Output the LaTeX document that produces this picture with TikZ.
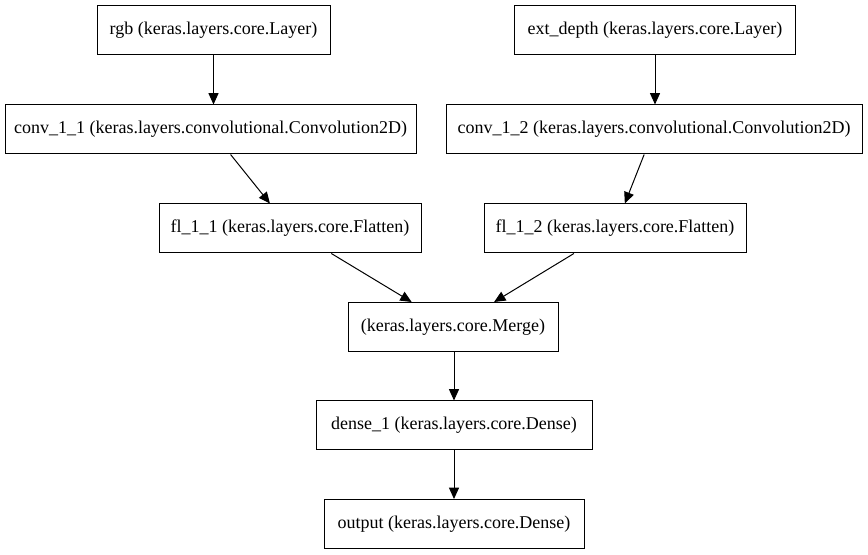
\documentclass[tikz,border=0pt]{standalone}
\usepackage{fontspec}
\setmainfont{Liberation Serif}
\usetikzlibrary{arrows.meta}

\begin{document}
\begin{tikzpicture}[x=0.75pt, y=-0.75pt,
  layer/.style={draw, line width=0.75pt, minimum height=36.75pt, inner sep=0pt,
    font=\fontsize{13.5}{16}\selectfont},
  flow/.style={-{Triangle[length=8.5pt, width=7.5pt]}, line width=0.75pt}]

  \useasboundingbox (0,0) rectangle (868,555);

  % --- ingressi ---
  \node[layer, minimum width=174.75pt] (rgb) at (213.5,30.5) {rgb (keras.layers.core.Layer)};
  \node[layer, minimum width=210.75pt] (extdepth) at (655,30.5) {ext\_depth (keras.layers.core.Layer)};

  % --- convoluzioni ---
  \node[layer, minimum width=308.25pt] (conv11) at (210.5,129.5) {conv\_1\_1 (keras.layers.convolutional.Convolution2D)};
  \node[layer, minimum width=312pt] (conv12) at (654,129.5) {conv\_1\_2 (keras.layers.convolutional.Convolution2D)};

  % --- flatten ---
  \node[layer, minimum width=196.5pt] (fl11) at (290,228.5) {fl\_1\_1 (keras.layers.core.Flatten)};
  \node[layer, minimum width=196.5pt] (fl12) at (615,228.5) {fl\_1\_2 (keras.layers.core.Flatten)};

  % --- merge e uscita ---
  \node[layer, minimum width=157.5pt] (merge) at (453,327) {(keras.layers.core.Merge)};
  \node[layer, minimum width=207pt] (dense1) at (454,425.5) {dense\_1 (keras.layers.core.Dense)};
  \node[layer, minimum width=195pt] (output) at (454,524) {output (keras.layers.core.Dense)};

  % --- archi ---
  \draw[flow] (rgb.south) -- (rgb.south |- conv11.north);
  \draw[flow] (extdepth.south) -- (extdepth.south |- conv12.north);
  \draw[flow] (conv11) -- (fl11);
  \draw[flow] (conv12) -- (fl12);
  \draw[flow] (fl11) -- (merge);
  \draw[flow] (fl12) -- (merge);
  \draw[flow] (dense1.north |- merge.south) -- (dense1.north);
  \draw[flow] (dense1) -- (output);

\end{tikzpicture}
\end{document}
